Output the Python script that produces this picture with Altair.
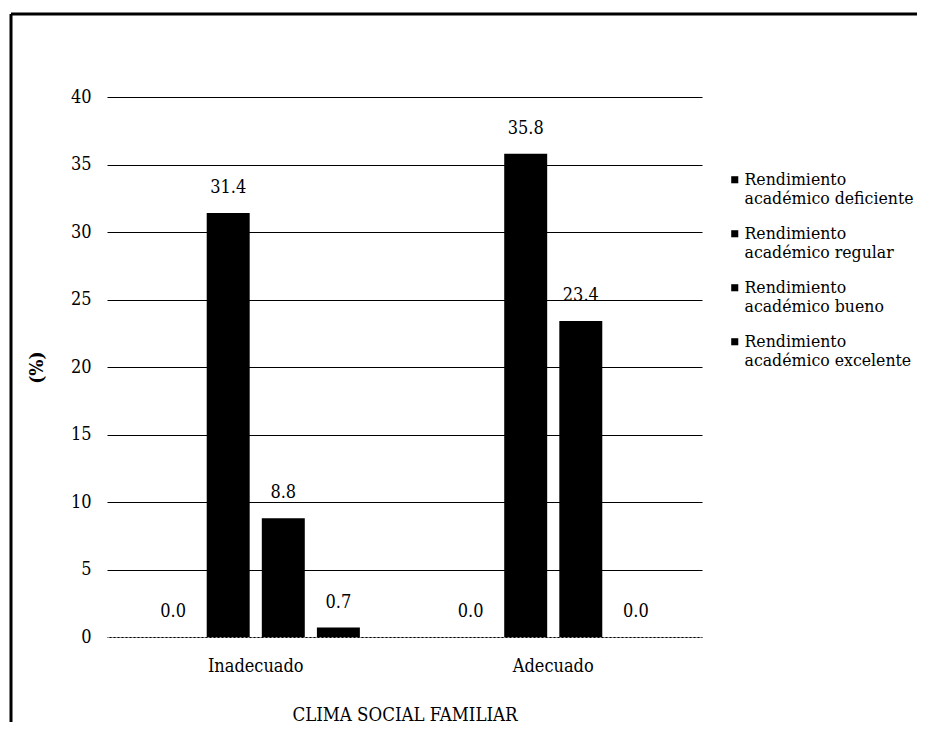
import altair as alt
import pandas as pd

categories = ["Inadecuado", "Inadecuado", "Inadecuado", "Inadecuado",
              "Adecuado", "Adecuado", "Adecuado", "Adecuado"]
series = ["Rendimiento|académico deficiente", "Rendimiento|académico regular",
          "Rendimiento|académico bueno", "Rendimiento|académico excelente"] * 2
values = [0.0, 31.4, 8.8, 0.7, 0.0, 35.8, 23.4, 0.0]
cat_order = ["Inadecuado", "Adecuado"]
series_order = ["Rendimiento|académico deficiente", "Rendimiento|académico regular",
                "Rendimiento|académico bueno", "Rendimiento|académico excelente"]
y_ticks = [0, 5, 10, 15, 20, 25, 30, 35, 40]

df = pd.DataFrame({"cat": categories, "serie": series, "val": values})
df["lab"] = df["val"].map(lambda v: f"{v:.1f}")

FONT = "DejaVu Serif Condensed, DejaVu Serif"

x_enc = alt.X("cat:N", sort=cat_order,
              scale=alt.Scale(paddingInner=0.3, paddingOuter=0.15),
              axis=alt.Axis(title="CLIMA SOCIAL FAMILIAR", labelAngle=0,
                            labelFontSize=18, titleFontSize=18.5, titleFontWeight="normal",
                            labelPadding=20, titlePadding=30, ticks=False,
                            domainColor="#999999", domainWidth=1, domainDash=[2, 2],
                            labelColor="black", titleColor="black",
                            labelFont=FONT, titleFont=FONT))
xoff = alt.XOffset("serie:N", sort=series_order, scale=alt.Scale(paddingInner=0.22))
y_enc = alt.Y("val:Q", scale=alt.Scale(domain=[0, 40], nice=False),
              axis=alt.Axis(title="(%)", values=y_ticks, titleFontSize=19,
                            titleFontWeight="bold", labelFontSize=18, domain=False,
                            ticks=False, labelPadding=16, titlePadding=24,
                            gridColor="black", gridWidth=1, labelColor="black",
                            titleColor="black", labelFont=FONT, titleFont=FONT))

bars = alt.Chart(df).mark_bar(color="black").encode(
    x=x_enc, xOffset=xoff, y=y_enc,
    color=alt.Color("serie:N", sort=series_order,
                    scale=alt.Scale(domain=series_order, range=["black"] * 4),
                    legend=alt.Legend(title=None, orient="none", legendX=619, legendY=74,
                                      labelFontSize=17.5, labelFont=FONT, symbolType="square",
                                      symbolSize=50, rowPadding=16, labelLimit=300,
                                      labelExpr="split(datum.label, '|')",
                                      labelColor="black", symbolOffset=0,
                                      labelOffset=1))
)

texts = alt.Chart(df).mark_text(font=FONT, fontSize=18, dy=-25, color="black").encode(
    x=alt.X("cat:N", sort=cat_order), xOffset=alt.XOffset("serie:N", sort=series_order),
    y="val:Q", text="lab:N"
)

frame_df = pd.DataFrame({"a": [0]})
top_line = alt.Chart(frame_df).mark_rule(stroke="black", strokeWidth=3).encode(
    x=alt.value(-96), x2=alt.value(810), y=alt.value(-83)
)
left_line = alt.Chart(frame_df).mark_rule(stroke="black", strokeWidth=3).encode(
    x=alt.value(-96), y=alt.value(-83), y2=alt.value(625)
)

chart = alt.layer(top_line, left_line, bars, texts).properties(
    width=595, height=540, padding={"left": 1, "top": 4, "right": 0, "bottom": 0}
).configure(font=FONT).configure_view(stroke=None)

chart.save("out.html", embed_options={"renderer": "svg", "actions": False})
